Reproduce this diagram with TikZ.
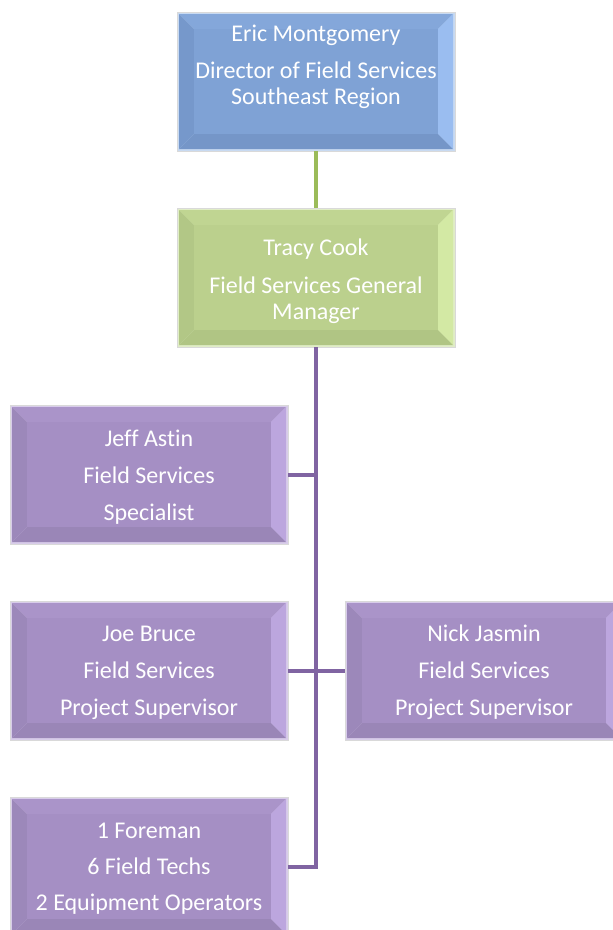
\documentclass[tikz,border=0pt]{standalone}
\usepackage{fontspec}
\setmainfont{Carlito}[Ligatures=NoCommon]
\usetikzlibrary{calc}
\definecolor{bBorder}{HTML}{C8DAF2}
\definecolor{bTop}{HTML}{84A7DA}
\definecolor{bRight}{HTML}{9ABDF0}
\definecolor{bBottom}{HTML}{7596C8}
\definecolor{bLeft}{HTML}{7698CB}
\definecolor{bMain}{HTML}{7FA2D5}
\definecolor{gBorder}{HTML}{E0EDC6}
\definecolor{gTop}{HTML}{C0D592}
\definecolor{gRight}{HTML}{D3E9A4}
\definecolor{gBottom}{HTML}{B0C584}
\definecolor{gLeft}{HTML}{B2C786}
\definecolor{gMain}{HTML}{BBD08D}
\definecolor{pBorder}{HTML}{D8CCEA}
\definecolor{pTop}{HTML}{AA94C9}
\definecolor{pRight}{HTML}{BCA6DE}
\definecolor{pBottom}{HTML}{9A86B7}
\definecolor{pLeft}{HTML}{9C88BA}
\definecolor{pMain}{HTML}{A58FC4}
\definecolor{gLine}{HTML}{9BBB59}
\definecolor{pLine}{HTML}{8064A2}
\tikzset{
  bevelbox/.style n args={6}{
    rectangle, fill=#1, draw=black!15, line width=0.6pt,
    minimum width=278pt, minimum height=139pt, inner sep=0pt,
    path picture={
      \coordinate (oSW) at ($(path picture bounding box.south west)+(2pt,2pt)$);
      \coordinate (oNE) at ($(path picture bounding box.north east)+(-2pt,-2pt)$);
      \coordinate (oNW) at ($(path picture bounding box.north west)+(2pt,-2pt)$);
      \coordinate (oSE) at ($(path picture bounding box.south east)+(-2pt,2pt)$);
      \coordinate (iSW) at ($(oSW)+(15pt,15pt)$);
      \coordinate (iNE) at ($(oNE)+(-15pt,-15pt)$);
      \coordinate (iNW) at ($(oNW)+(15pt,-15pt)$);
      \coordinate (iSE) at ($(oSE)+(-15pt,15pt)$);
      \fill[#2] (oNW)--(oNE)--(iNE)--(iNW)--cycle;
      \fill[#3] (oNE)--(oSE)--(iSE)--(iNE)--cycle;
      \fill[#4] (oSE)--(oSW)--(iSW)--(iSE)--cycle;
      \fill[#5] (oSW)--(oNW)--(iNW)--(iSW)--cycle;
      \fill[#6] (iSW) rectangle (iNE);
    }
  },
  bluebox/.style={bevelbox={bBorder}{bTop}{bRight}{bBottom}{bLeft}{bMain}},
  greenbox/.style={bevelbox={gBorder}{gTop}{gRight}{gBottom}{gLeft}{gMain}},
  purplebox/.style={bevelbox={pBorder}{pTop}{pRight}{pBottom}{pLeft}{pMain}},
  boxtext/.style={anchor=north, inner sep=0pt, align=center, text=white,
    font=\fontsize{24}{26}\selectfont},
  gconn/.style={draw=gLine, line width=4pt},
  pconn/.style={draw=pLine, line width=4pt}
}
\begin{document}
\begin{tikzpicture}[x=1pt,y=-1pt]
\useasboundingbox (0,0) rectangle (613,930);
\clip (0,0) rectangle (613,930);
% boxes
\node[bluebox] (dir) at (316,81.5) {};
\node[greenbox] (gm) at (316,277.5) {};
\node[purplebox] (jeff) at (149,474.5) {};
\node[purplebox] (joe) at (149,670.5) {};
\node[purplebox] (nick) at (484,670.5) {};
\node[purplebox] (crew) at (149,866.5) {};
% connectors
\draw[gconn] (dir.south) -- (gm.north);
\draw[pconn] (crew.east) -| (gm.south);
\draw[pconn] (jeff.east) -| (gm.south);
\draw[pconn] (joe.east) -- (nick.west);
% texts
\node[boxtext] (dirtxt) at (316,24.5) {Eric Montgomery\\[11pt]Director of Field Services\\Southeast Region};
\node[boxtext] (gmtxt) at (316,238.5) {Tracy Cook\\[12pt]Field Services General\\Manager};
\node[boxtext] (jefftxt) at (149,430) {Jeff Astin\\[11pt]Field Services\\[11pt]Specialist};
\node[boxtext] (joetxt) at (149,626) {Joe Bruce\\[11pt]Field Services\\[11pt]Project Supervisor};
\node[boxtext] (nicktxt) at (484,625) {Nick Jasmin\\[11pt]Field Services\\[11pt]Project Supervisor};
\node[boxtext] (crewtxt) at (149,822.5) {1 Foreman\\[10pt]6 Field Techs\\[10pt]2 Equipment Operators};
\end{tikzpicture}
\end{document}
